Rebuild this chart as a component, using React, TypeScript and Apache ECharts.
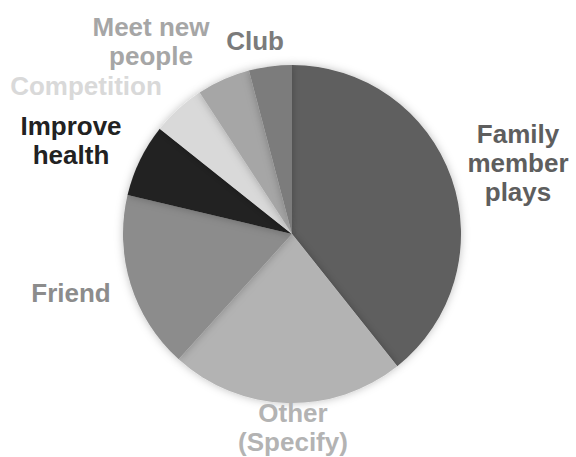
import React, { useEffect, useRef } from "react";
import * as echarts from "echarts";

const categories = [
  "Family\nmember\nplays",
  "Other\n(Specify)",
  "Friend",
  "Improve\nhealth",
  "Competition",
  "Meet new\npeople",
  "Club",
];
const values = [39.3, 22.4, 17.0, 7.0, 5.1, 5.1, 4.1];
const sliceColors = ["#5e5e5e", "#b3b3b3", "#8c8c8c", "#222222", "#d9d9d9", "#a6a6a6", "#7b7b7b"];
const labelColors = ["#5e5e5e", "#b3b3b3", "#8c8c8c", "#222222", "#d9d9d9", "#a6a6a6", "#7b7b7b"];
// label block centres (layout only)
const labelPos: [number, number][] = [
  [518, 163],
  [293, 427],
  [71, 293],
  [71, 140],
  [86, 86],
  [151, 41],
  [255, 41],
];

export default function App() {
  const ref = useRef<HTMLDivElement>(null);
  useEffect(() => {
    if (!ref.current) return;
    const chart = echarts.init(ref.current, null, { renderer: "svg" });
    chart.setOption({
      animation: false,
      backgroundColor: "#ffffff",
      series: [
        {
          type: "pie",
          center: [292, 234],
          radius: 169,
          startAngle: 90,
          clockwise: true,
          avoidLabelOverlap: false,
          label: {
            show: true,
            position: "outside",
            formatter: "{b}",
            fontFamily: "Liberation Sans, Arial, sans-serif",
            fontWeight: "bold",
            fontSize: 26,
            lineHeight: 29,
            align: "center",
          },
          labelLine: { show: false },
          labelLayout: (params: any) => {
            const p = labelPos[params.dataIndex];
            return { x: p[0], y: p[1], align: "center", verticalAlign: "middle", hideOverlap: false };
          },
          itemStyle: {
            borderWidth: 0,
            shadowBlur: 8,
            shadowColor: "rgba(0,0,0,0.25)",
            shadowOffsetX: 0,
            shadowOffsetY: 0,
          },
          emphasis: { disabled: true },
          data: categories.map((name, i) => ({
            name,
            value: values[i],
            itemStyle: { color: sliceColors[i] },
            label: { color: labelColors[i] },
          })),
        },
      ],
    });
    return () => chart.dispose();
  }, []);
  return (
    <div
      ref={ref}
      style={{ position: "fixed", left: 0, top: 0, width: 576, height: 457 }}
    />
  );
}
